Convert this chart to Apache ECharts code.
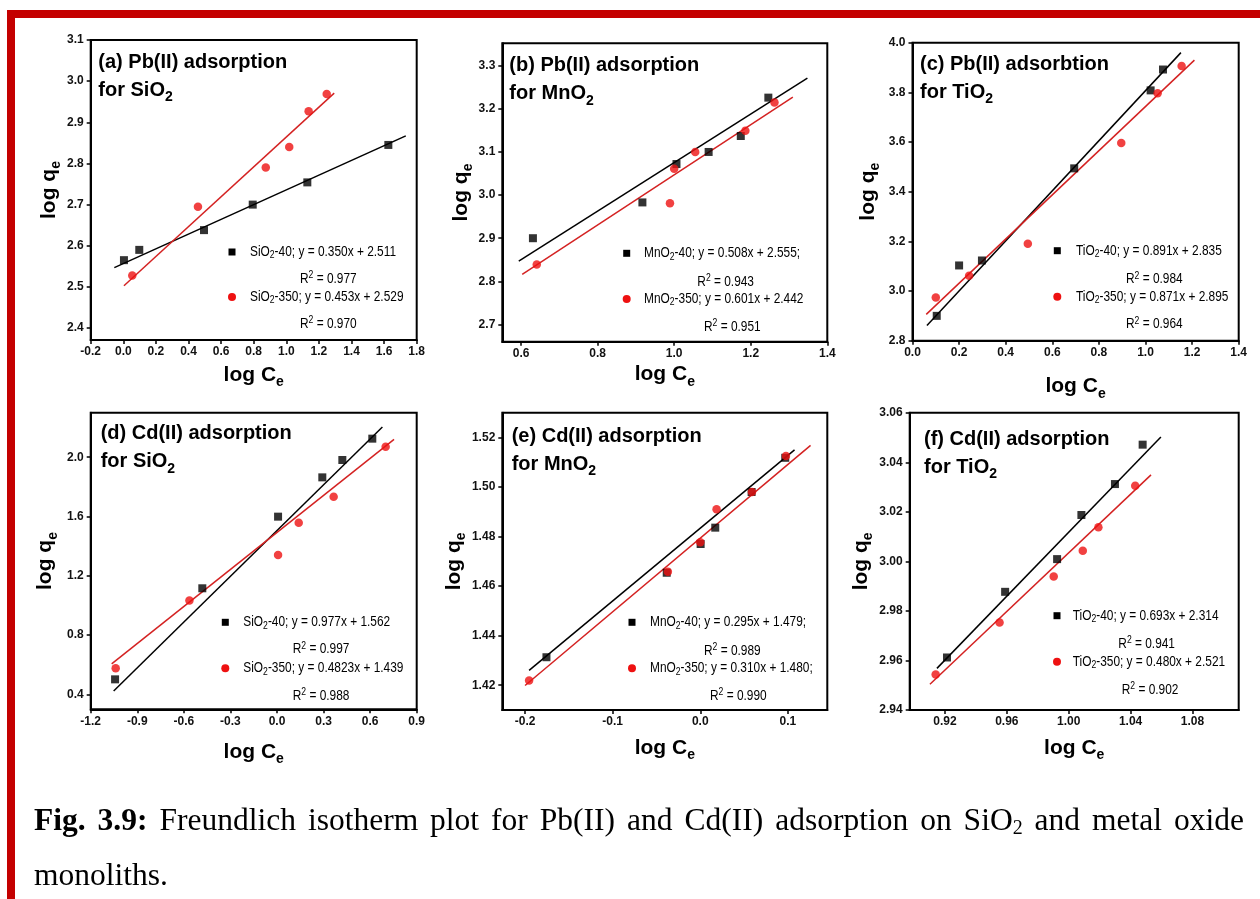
<!DOCTYPE html>
<html>
<head>
<meta charset="utf-8">
<title>Freundlich isotherm plots</title>
<script src="https://cdn.jsdelivr.net/npm/echarts@6.0.0/dist/echarts.min.js"></script>
<style>
  html, body { margin: 0; padding: 0; background: #fff; }
  #wrap { position: relative; width: 1260px; height: 899px; overflow: hidden; }
  #chart { position: absolute; left: 0; top: 0; width: 1260px; height: 899px; }
  #caption { position: absolute; left: 34px; top: 792px; width: 1210px;
    font-family: 'Liberation Serif', 'Times New Roman', serif; font-size: 31.5px; line-height: 55px; color: #000; }
  #caption .l1 { white-space: nowrap; text-align: justify; text-align-last: justify; }
  #caption sub { font-size: 20px; line-height: 0; vertical-align: -4px; }
</style>
</head>
<body>
<div id="wrap">
  <div id="chart"></div>
  <div id="caption">
    <div class="l1"><b>Fig. 3.9:</b> Freundlich isotherm plot for Pb(II) and Cd(II) adsorption on SiO<sub>2</sub> and metal oxide</div>
    <div>monoliths.</div>
  </div>
</div>
<script>
// ---- data: [log Ce, log qe] ----
// (a) Pb(II) on SiO2
const pbSiO2_40 = [[0.004, 2.565], [0.098, 2.590], [0.495, 2.638], [0.794, 2.700], [1.129, 2.754], [1.626, 2.845]]
const pbSiO2_350 = [[0.055, 2.528], [0.458, 2.695], [0.874, 2.790], [1.018, 2.840], [1.137, 2.927], [1.248, 2.969]]
const pbSiO2_fit40 = [[-0.055, 2.547], [1.733, 2.867]]
const pbSiO2_fit350 = [[0.004, 2.503], [1.294, 2.971]]
// (b) Pb(II) on MnO2
const pbMnO2_40 = [[0.631, 2.900], [0.917, 2.983], [1.006, 3.072], [1.090, 3.100], [1.174, 3.137], [1.246, 3.226]]
const pbMnO2_350 = [[0.641, 2.839], [0.989, 2.981], [1.000, 3.061], [1.055, 3.100], [1.186, 3.149], [1.262, 3.215]]
const pbMnO2_fit40 = [[0.594, 2.847], [1.348, 3.271]]
const pbMnO2_fit350 = [[0.603, 2.816], [1.310, 3.227]]
// (c) Pb(II) on TiO2
const pbTiO2_40 = [[0.104, 2.900], [0.200, 3.103], [0.298, 3.123], [0.694, 3.494], [1.022, 3.808], [1.075, 3.892]]
const pbTiO2_350 = [[0.100, 2.974], [0.243, 3.062], [0.495, 3.190], [0.896, 3.596], [1.052, 3.796], [1.155, 3.906]]
const pbTiO2_fit40 = [[0.062, 2.861], [1.152, 3.960]]
const pbTiO2_fit350 = [[0.059, 2.906], [1.210, 3.930]]
// (d) Cd(II) on SiO2
const cdSiO2_40 = [[-1.043, 0.502], [-0.481, 1.116], [0.007, 1.599], [0.292, 1.864], [0.421, 1.981], [0.614, 2.125]]
const cdSiO2_350 = [[-1.039, 0.576], [-0.564, 1.033], [0.007, 1.340], [0.140, 1.558], [0.365, 1.734], [0.700, 2.071]]
const cdSiO2_fit40 = [[-1.052, 0.424], [0.679, 2.203]]
const cdSiO2_fit350 = [[-1.065, 0.606], [0.754, 2.120]]
// (e) Cd(II) on MnO2
const cdMnO2_40 = [[-0.1756, 1.4313], [-0.0383, 1.4654], [0.0004, 1.4770], [0.0171, 1.4836], [0.0586, 1.4980], [0.0970, 1.5118]]
const cdMnO2_350 = [[-0.1954, 1.4219], [-0.0370, 1.4658], [0.0000, 1.4777], [0.0186, 1.4910], [0.0590, 1.4980], [0.0978, 1.5125]]
const cdMnO2_fit40 = [[-0.1954, 1.4260], [0.1076, 1.5150]]
const cdMnO2_fit350 = [[-0.2000, 1.4199], [0.1259, 1.5168]]
// (f) Cd(II) on TiO2
const cdTiO2_40 = [[0.9213, 2.9612], [0.9589, 2.9877], [0.9925, 3.0009], [1.0082, 3.0187], [1.0299, 3.0312], [1.0478, 3.0471]]
const cdTiO2_350 = [[0.9140, 2.9543], [0.9553, 2.9753], [0.9903, 2.9939], [1.0091, 3.0043], [1.0192, 3.0138], [1.0430, 3.0305]]
const cdTiO2_fit40 = [[0.9148, 2.9568], [1.0596, 3.0502]]
const cdTiO2_fit350 = [[0.9103, 2.9504], [1.0532, 3.0349]]

// ---- tick values ----
const aXTicks = [-0.2, 0, 0.2, 0.4, 0.6, 0.8, 1.0, 1.2, 1.4, 1.6, 1.8]
const aYTicks = [2.4, 2.5, 2.6, 2.7, 2.8, 2.9, 3.0, 3.1]
const bXTicks = [0.6, 0.8, 1.0, 1.2, 1.4]
const bYTicks = [2.7, 2.8, 2.9, 3.0, 3.1, 3.2, 3.3]
const cXTicks = [0, 0.2, 0.4, 0.6, 0.8, 1.0, 1.2, 1.4]
const cYTicks = [2.8, 3.0, 3.2, 3.4, 3.6, 3.8, 4.0]
const dXTicks = [-1.2, -0.9, -0.6, -0.3, 0, 0.3, 0.6, 0.9]
const dYTicks = [0.4, 0.8, 1.2, 1.6, 2.0]
const eXTicks = [-0.2, -0.1, 0, 0.1]
const eYTicks = [1.42, 1.44, 1.46, 1.48, 1.50, 1.52]
const fXTicks = [0.92, 0.96, 1.00, 1.04, 1.08]
const fYTicks = [2.94, 2.96, 2.98, 3.00, 3.02, 3.04, 3.06]

// ---- texts ----
const titles = [
  ["(a) Pb(II) adsorption", "for SiO2"],
  ["(b) Pb(II) adsorption", "for MnO2"],
  ["(c) Pb(II) adsorbtion", "for TiO2"],
  ["(d) Cd(II) adsorption", "for SiO2"],
  ["(e) Cd(II) adsorption", "for MnO2"],
  ["(f) Cd(II) adsorption", "for TiO2"],
]
const legends = [
  ["SiO2-40; y = 0.350x + 2.511", "R2 = 0.977", "SiO2-350; y = 0.453x + 2.529", "R2 = 0.970"],
  ["MnO2-40; y = 0.508x + 2.555;", "R2 = 0.943", "MnO2-350; y = 0.601x + 2.442", "R2 = 0.951"],
  ["TiO2-40; y = 0.891x + 2.835", "R2 = 0.984", "TiO2-350; y = 0.871x + 2.895", "R2 = 0.964"],
  ["SiO2-40; y = 0.977x + 1.562", "R2 = 0.997", "SiO2-350; y = 0.4823x + 1.439", "R2 = 0.988"],
  ["MnO2-40; y = 0.295x + 1.479;", "R2 = 0.989", "MnO2-350; y = 0.310x + 1.480;", "R2 = 0.990"],
  ["TiO2-40; y = 0.693x + 2.314", "R2 = 0.941", "TiO2-350; y = 0.480x + 2.521", "R2 = 0.902"],
]

const panels = [
  { s40: pbSiO2_40, s350: pbSiO2_350, f40: pbSiO2_fit40, f350: pbSiO2_fit350, xt: aXTicks, yt: aYTicks },
  { s40: pbMnO2_40, s350: pbMnO2_350, f40: pbMnO2_fit40, f350: pbMnO2_fit350, xt: bXTicks, yt: bYTicks },
  { s40: pbTiO2_40, s350: pbTiO2_350, f40: pbTiO2_fit40, f350: pbTiO2_fit350, xt: cXTicks, yt: cYTicks },
  { s40: cdSiO2_40, s350: cdSiO2_350, f40: cdSiO2_fit40, f350: cdSiO2_fit350, xt: dXTicks, yt: dYTicks },
  { s40: cdMnO2_40, s350: cdMnO2_350, f40: cdMnO2_fit40, f350: cdMnO2_fit350, xt: eXTicks, yt: eYTicks },
  { s40: cdTiO2_40, s350: cdTiO2_350, f40: cdTiO2_fit40, f350: cdTiO2_fit350, xt: fXTicks, yt: fYTicks },
]

// pixel layout measured on the reference
const layout = [
  { box: [90.7, 40, 326, 300], x: [-0.2, 1.8], y: [2.371, 3.1], dec: [1, 1], gap: [21, 27],
    title: [98.3, 48.3], mx: 232, tx: 250, rx: [300, 300], ly: [252, 279, 297, 324] },
  { box: [502.3, 43.3, 325, 298.4], x: [0.551, 1.4], y: [2.66, 3.352], dec: [1, 1], gap: [19, 27],
    title: [509.3, 51.7], mx: 626.7, tx: 644, rx: [697.3, 704], ly: [253.3, 281.7, 299, 326.7] },
  { box: [912.5, 42.7, 326.2, 298], x: [0, 1.4], y: [2.8, 4.0], dec: [1, 1], gap: [32, 30],
    title: [920, 50], mx: 1057.3, tx: 1076, rx: [1126, 1126], ly: [250.7, 279.3, 296.7, 324.3] },
  { box: [90.7, 412.7, 326, 296.6], x: [-1.2, 0.9], y: [0.3, 2.3], dec: [1, 1], gap: [29, 31],
    title: [100.7, 419.7], mx: 225.3, tx: 243.3, rx: [292.7, 292.7], ly: [622.3, 649.3, 668.3, 696] },
  { box: [502.3, 412.7, 325, 297.3], x: [-0.226, 0.145], y: [1.41, 1.53], dec: [1, 2], gap: [24, 31],
    title: [511.7, 422.3], mx: 632, tx: 650, rx: [704, 710], ly: [622.3, 650.7, 668.3, 695.7] },
  { box: [909.7, 412.7, 329, 297.3], x: [0.8972, 1.1099], y: [2.94, 3.06], dec: [2, 2], gap: [24.5, 30],
    title: [924, 425], mx: 1057, tx: 1072.7, rx: [1118.3, 1121.7], ly: [615.7, 644, 661.7, 690] },
]

const SANS = "'Liberation Sans', Arial, sans-serif"
const RED = "#ee1111"
const RED_LINE = "#d42222"
const BORDER_RED = "#c40000"
const LEG_SQUEEZE = 0.82   // legend text in the figure is a condensed face

const nameRich = {
  m: { fontFamily: SANS, fontWeight: "bold", fontSize: 21, lineHeight: 28, color: "#000" },
  s: { fontFamily: SANS, fontWeight: "bold", fontSize: 14, verticalAlign: "bottom", color: "#000" },
}
const titleRich = {
  t: { fontFamily: SANS, fontWeight: "bold", fontSize: 20, lineHeight: 28, color: "#000" },
  u: { fontFamily: SANS, fontWeight: "bold", fontSize: 14, verticalAlign: "bottom", color: "#000" },
}
const legRich = {
  n: { fontFamily: SANS, fontSize: 14.5, lineHeight: 18, color: "#000" },
  s: { fontFamily: SANS, fontSize: 10.5, verticalAlign: "bottom", color: "#000" },
  p: { fontFamily: SANS, fontSize: 10.5, verticalAlign: "top", color: "#000" },
}

const chemRich = s => "{n|" + s.replace("O2", "O}{s|2}{n|") + "}"
const r2Rich = s => "{n|R}{p|2}{n|" + s.slice(2) + "}"

function axisBase(i, range, ticks, dec) {
  return {
    gridIndex: i, type: "value", min: range[0], max: range[1],
    axisLine: { onZero: false, lineStyle: { color: "#000", width: 2 } },
    axisTick: { show: true, length: 4, customValues: ticks, lineStyle: { color: "#000", width: 1.5 } },
    axisLabel: {
      customValues: ticks, formatter: v => Number(v).toFixed(dec),
      color: "#111", fontFamily: SANS, fontWeight: "bold", fontSize: 12,
    },
    splitLine: { show: false },
    nameLocation: "middle",
    nameTextStyle: { rich: nameRich },
  }
}

function legText(x, y, text) {
  return { type: "text", z: 10, x, y, scaleX: LEG_SQUEEZE,
    style: { text, rich: legRich, verticalAlign: "middle", align: "left" } }
}

const grids = [], xAxes = [], yAxes = [], series = [], graphics = []

panels.forEach((p, i) => {
  const L = layout[i]
  grids.push({ left: L.box[0], top: L.box[1], width: L.box[2], height: L.box[3],
    show: true, borderColor: "#000", borderWidth: 2, backgroundColor: "transparent" })

  const xa = axisBase(i, L.x, p.xt, L.dec[0])
  xa.axisLabel.margin = 6
  xa.name = "{m|log C}{s|e}"
  xa.nameGap = L.gap[0]
  xAxes.push(xa)

  const ya = axisBase(i, L.y, p.yt, L.dec[1])
  ya.axisLabel.margin = 7
  ya.name = "{m|log q}{s|e}"
  ya.nameGap = L.gap[1]
  yAxes.push(ya)

  series.push(
    { type: "line", xAxisIndex: i, yAxisIndex: i, data: p.f40, symbol: "none", silent: true,
      lineStyle: { color: "#000", width: 1.5 }, z: 2 },
    { type: "line", xAxisIndex: i, yAxisIndex: i, data: p.f350, symbol: "none", silent: true,
      lineStyle: { color: RED_LINE, width: 1.5 }, z: 2 },
    { type: "scatter", xAxisIndex: i, yAxisIndex: i, data: p.s40, symbol: "rect", symbolSize: 8,
      itemStyle: { color: "#000" }, z: 3 },
    { type: "scatter", xAxisIndex: i, yAxisIndex: i, data: p.s350, symbol: "circle", symbolSize: 8.5,
      itemStyle: { color: RED }, z: 4 },
  )

  // panel title
  const t = titles[i]
  graphics.push({ type: "text", x: L.title[0], y: L.title[1], z: 10,
    style: { text: "{t|" + t[0] + "}\n{t|" + t[1].replace("O2", "O}{u|2") + "}",
      rich: titleRich, verticalAlign: "top", align: "left" } })

  // legend block
  const lg = legends[i]
  graphics.push(
    { type: "rect", z: 10, shape: { x: L.mx - 3.5, y: L.ly[0] - 3.5, width: 7, height: 7 }, style: { fill: "#000" } },
    { type: "circle", z: 10, shape: { cx: L.mx, cy: L.ly[2], r: 4 }, style: { fill: RED } },
    legText(L.tx, L.ly[0], chemRich(lg[0])),
    legText(L.rx[0], L.ly[1], r2Rich(lg[1])),
    legText(L.tx, L.ly[2], chemRich(lg[2])),
    legText(L.rx[1], L.ly[3], r2Rich(lg[3])),
  )
})

// red page frame (top and left bars)
graphics.push(
  { type: "rect", z: 20, shape: { x: 7, y: 10, width: 1253, height: 8 }, style: { fill: BORDER_RED } },
  { type: "rect", z: 20, shape: { x: 7, y: 10, width: 8, height: 889 }, style: { fill: BORDER_RED } },
)

const chart = echarts.init(document.getElementById("chart"), null, { renderer: "canvas" })
chart.setOption({
  animation: false,
  backgroundColor: "#fff",
  grid: grids,
  xAxis: xAxes,
  yAxis: yAxes,
  series,
  graphic: graphics,
})
</script>
</body>
</html>
